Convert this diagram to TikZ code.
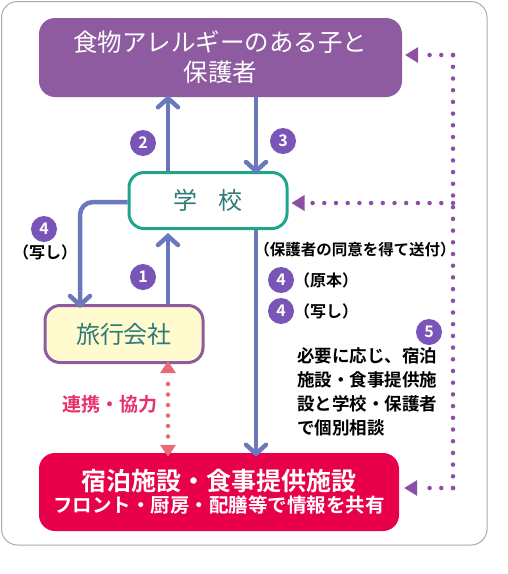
\documentclass[tikz,border=0pt]{standalone}
\usepackage{fontspec}
\setmainfont{Noto Sans CJK JP}[BoldFont={Noto Sans CJK JP Bold}]
\usetikzlibrary{arrows.meta}
\definecolor{boxpurple}{HTML}{8F5BA0}
\definecolor{arrowblue}{HTML}{6C78BE}
\definecolor{numpurple}{HTML}{7A55B8}
\definecolor{schoolgreen}{HTML}{1FA58B}
\definecolor{tealtext}{HTML}{2F7A7A}
\definecolor{dotpurple}{HTML}{8C4FA6}
\definecolor{hotelred}{HTML}{E8004B}
\definecolor{reddot}{HTML}{E86A72}
\definecolor{pinktext}{HTML}{E8306A}
\definecolor{agencyfill}{HTML}{FFFBCF}
\definecolor{framegray}{HTML}{AAAAAA}
\tikzset{
  flow/.style={draw=arrowblue, line width=4.5pt, -{Straight Barb[length=9pt,width=20pt,line cap=round]}},
  dotline/.style={draw=dotpurple, line width=4.5pt, line cap=round, dash pattern=on 0pt off 11.7pt},
  numc/.style={circle, fill=numpurple, text=white, inner sep=0pt, minimum size=26pt, font=\fontsize{16}{16}\selectfont\bfseries},
  lbl/.style={text=black, inner sep=0pt, font=\fontsize{16}{16}\selectfont\bfseries},
}
\begin{document}
\begin{tikzpicture}[x=1pt,y=-1pt]
\useasboundingbox (0,0) rectangle (508,574);
% frame
\draw[framegray, line width=1pt, rounded corners=16pt] (1.5,1.5) rectangle (487,545);
% top box
\node[fill=boxpurple, rounded corners=16pt, minimum width=363pt, minimum height=79pt, inner sep=0pt, text=white, align=center, font=\fontsize{24.5}{30}\selectfont] (parent) at (220.5,57.5) {食物アレルギーのある子と\\保護者};
% school
\node[draw=schoolgreen, fill=white, line width=3pt, rounded corners=15pt, minimum width=158pt, minimum height=56pt, inner sep=0pt, text=tealtext, font=\fontsize{24}{24}\selectfont] (school) at (208,200.5) {学\hspace{0.9em}校};
% travel agency
\node[draw=boxpurple, fill=agencyfill, line width=3pt, rounded corners=15pt, minimum width=158pt, minimum height=57pt, inner sep=0pt, text=tealtext, font=\fontsize{24}{24}\selectfont] (agency) at (124,334) {旅行会社};
% hotel
\node[fill=hotelred, rounded corners=16pt, minimum width=360pt, minimum height=78pt, inner sep=0pt, text=white, align=center] (hotel) at (219,492) {{\fontsize{25}{25}\selectfont\bfseries 宿泊施設・食事提供施設}\\[2pt]{\fontsize{19.5}{19.5}\selectfont\bfseries フロント・厨房・配膳等で情報を共有}};
% coordinates
\coordinate (p2t) at (168,0 |- parent.south);
\coordinate (p3t) at (256,0 |- parent.south);
\coordinate (s2) at (168,0 |- school.north);
\coordinate (s3) at (256,0 |- school.north);
\coordinate (s1) at (168,0 |- school.south);
\coordinate (a1) at (168,0 |- agency.north);
\coordinate (s4) at (school.west |- 0,202);
\coordinate (a4) at (80,0 |- agency.north);
\coordinate (sd) at (256,0 |- school.south);
\coordinate (hd) at (256,0 |- hotel.north);
\coordinate (ra) at (168,0 |- agency.south);
\coordinate (rh) at (168,0 |- hotel.north);
\coordinate (c1) at (453,55);
\coordinate (c2) at (453,203);
\coordinate (c3) at (453,488);
% blue flows
\draw[flow] (s2) -- ([yshift=2pt]p2t);
\draw[flow] (p3t) -- ([yshift=-3pt]s3);
\draw[flow] (a1) -- ([yshift=-3pt]s1);
\draw[flow, rounded corners=13pt] (s4) -- (80,202) -- ([yshift=-4pt]a4);
\draw[flow] (sd) -- ([yshift=-4pt]hd);
% red dotted double arrow
\draw[draw=reddot, line width=4.5pt, line cap=round, dash pattern=on 0pt off 10.5pt] (168,384) -- (168,440);
\fill[reddot] ([yshift=3pt]ra) -- ++(8,12) -- ++(-16,0) -- cycle;
\fill[reddot] ([yshift=-4pt]rh) -- ++(8,-12) -- ++(-16,0) -- cycle;
% purple dotted lines
\draw[dotline] (c3) -- (c1);
\draw[dotline] (c1) -- (418,55);
\draw[dotline] (c2) -- (303,203);
\draw[dotline] (c3) -- (418,488);
\fill[dotpurple] ([xshift=3pt]parent.east |- c1) -- ++(13,-8) -- ++(0,16) -- cycle;
\fill[dotpurple] ([xshift=3pt]school.east |- c2) -- ++(13,-8) -- ++(0,16) -- cycle;
\fill[dotpurple] ([xshift=5pt]hotel.east |- c3) -- ++(13,-8) -- ++(0,16) -- cycle;
% number circles
\node[numc] (n2) at (143,143) {2};
\node[numc] (n3) at (283,141) {3};
\node[numc] (n1) at (143,277) {1};
\node[numc] (n4a) at (44,229) {4};
\node[lbl] (l4a) at (45,252) {（写し）};
\node[lbl, font=\fontsize{15.5}{15.5}\selectfont\bfseries] (consent) at (355,250) {（保護者の同意を得て送付）};
\node[numc] (n4b) at (281,280) {4};
\node[lbl, anchor=west] (orig) at (294,280) {（原本）};
\node[numc] (n4c) at (281,311) {4};
\node[lbl, anchor=west] (copy) at (294,311) {（写し）};
\node[numc] (n5) at (429,332) {5};
\node[lbl, anchor=north west, align=left, font=\fontsize{17.5}{24}\selectfont\bfseries] (consult) at (297,347) {必要に応じ、宿泊\\施設・食事提供施\\設と学校・保護者\\で個別相談};
\node[text=pinktext, inner sep=0pt, font=\fontsize{19}{19}\selectfont\bfseries] (coop) at (110,404) {連携・協力};
\end{tikzpicture}
\end{document}
